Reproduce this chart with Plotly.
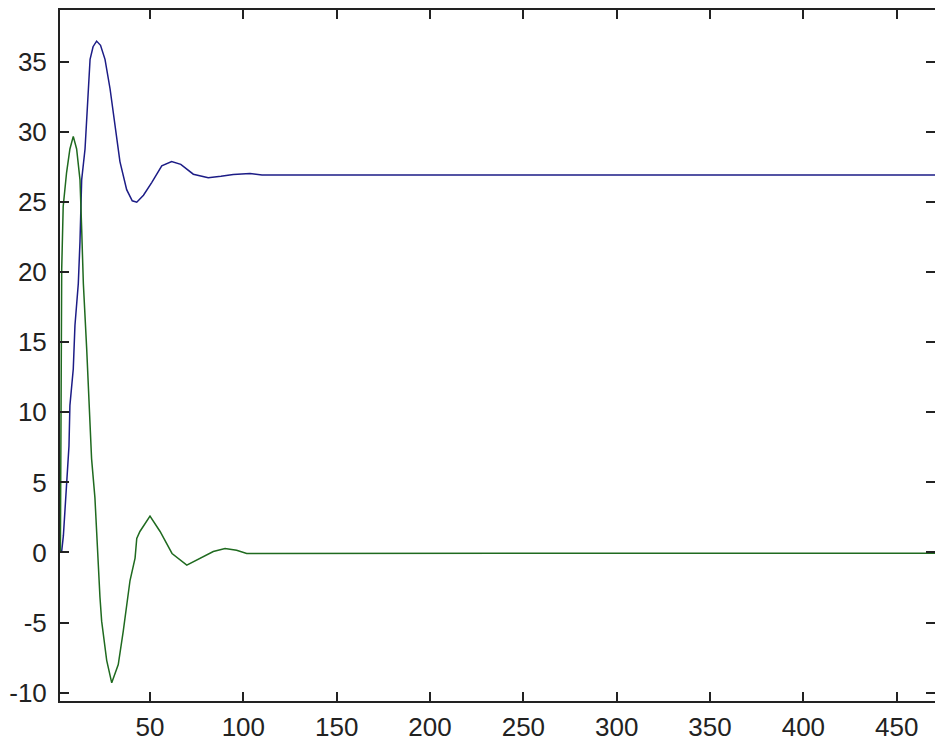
import plotly.graph_objects as go

# ---- data ----
blue_x = [2.0, 2.7, 3.6, 5.4, 6.6, 7.1, 8.9, 9.8, 11.6, 12.5, 13.4, 15.2, 16.1, 16.9, 17.9,
          19.5, 21.4, 23.5, 25.9, 28.6, 30.3, 32.2, 33.9, 37.5, 40.5, 42.9, 46.5, 50.9, 56.3,
          61.6, 66.5, 73.2, 81.2, 88.0, 94.6, 103.6, 110.0, 471.0]
blue_y = [0.0, 0.1, 1.2, 5.0, 7.6, 10.5, 13.1, 16.2, 19.2, 22.2, 26.6, 28.8, 30.9, 33.1, 35.2,
          36.1, 36.5, 36.2, 35.2, 33.1, 31.4, 29.5, 27.9, 25.9, 25.1, 25.0, 25.5, 26.4, 27.6,
          27.9, 27.7, 27.0, 26.75, 26.85, 26.97, 27.05, 26.95, 26.95]

green_x = [2.0, 2.3, 2.7, 3.5, 5.3, 7.1, 8.9, 10.7, 11.6, 12.5, 13.4, 14.3, 16.1, 17.9, 18.7,
           20.5, 21.4, 22.3, 23.2, 24.1, 25.9, 26.8, 29.5, 33.0, 35.7, 37.5, 39.3, 42.0, 42.9,
           44.6, 50.0, 55.4, 61.8, 69.7, 76.8, 83.9, 90.2, 96.4, 101.8, 471.0]
green_y = [0.0, 13.8, 20.2, 24.7, 27.1, 28.8, 29.7, 28.8, 27.6, 26.6, 23.1, 19.2, 14.5, 9.2, 6.7,
           3.9, 1.2, -0.4, -3.2, -4.9, -6.6, -7.7, -9.3, -8.0, -5.6, -3.7, -2.0, -0.4, 1.0,
           1.5, 2.6, 1.5, -0.07, -0.9, -0.43, 0.07, 0.28, 0.16, -0.07, -0.05]

x_ticks = [50, 100, 150, 200, 250, 300, 350, 400, 450]
x_tick_labels = ["50", "100", "150", "200", "250", "300", "350", "400", "450"]
y_ticks = [-10, -5, 0, 5, 10, 15, 20, 25, 30, 35]
y_tick_labels = ["-10", "-5", "0", "5", "10", "15", "20", "25", "30", "35"]

x_range = [1.79, 470.5]
y_range = [-10.6, 38.72]

fig = go.Figure()
fig.add_trace(go.Scatter(x=blue_x, y=blue_y, mode="lines",
                         line=dict(color="#1c1c86", width=1.5), showlegend=False))
fig.add_trace(go.Scatter(x=green_x, y=green_y, mode="lines",
                         line=dict(color="#1f6a1f", width=1.5), showlegend=False))
# invisible trace to carry the right-hand tick axis
fig.add_trace(go.Scatter(x=[x_range[0]], y=[y_range[0]], yaxis="y2", mode="lines",
                         line=dict(width=0), showlegend=False, hoverinfo="skip"))

tick_font = dict(family="Liberation Sans, Arial, sans-serif", size=26, color="#222222")

fig.update_layout(
    width=935, height=742,
    margin=dict(l=60, r=0, t=10, b=39),
    plot_bgcolor="white", paper_bgcolor="white",
    xaxis=dict(range=x_range, tickvals=x_ticks, ticktext=x_tick_labels,
               ticks="inside", ticklen=9, tickwidth=1.5, tickcolor="#222222",
               showline=True, linewidth=2, linecolor="#222222", mirror="ticks",
               showgrid=False, zeroline=False, tickfont=tick_font,
               ticklabelstandoff=2),
    yaxis=dict(range=y_range, tickvals=y_ticks, ticktext=y_tick_labels,
               ticks="inside", ticklen=9, tickwidth=1.5, tickcolor="#222222",
               showline=True, linewidth=2, linecolor="#222222", mirror=False,
               showgrid=False, zeroline=False, tickfont=tick_font,
               ticklabelstandoff=6),
    yaxis2=dict(range=y_range, tickvals=y_ticks, overlaying="y", side="right",
                ticks="inside", ticklen=9, tickwidth=1.5, tickcolor="#222222",
                showline=False, showticklabels=False, showgrid=False, zeroline=False),
)

fig.write_html("out.html", config={"displayModeBar": False},
               post_script="document.body.style.margin='0';document.body.style.overflow='hidden';")
